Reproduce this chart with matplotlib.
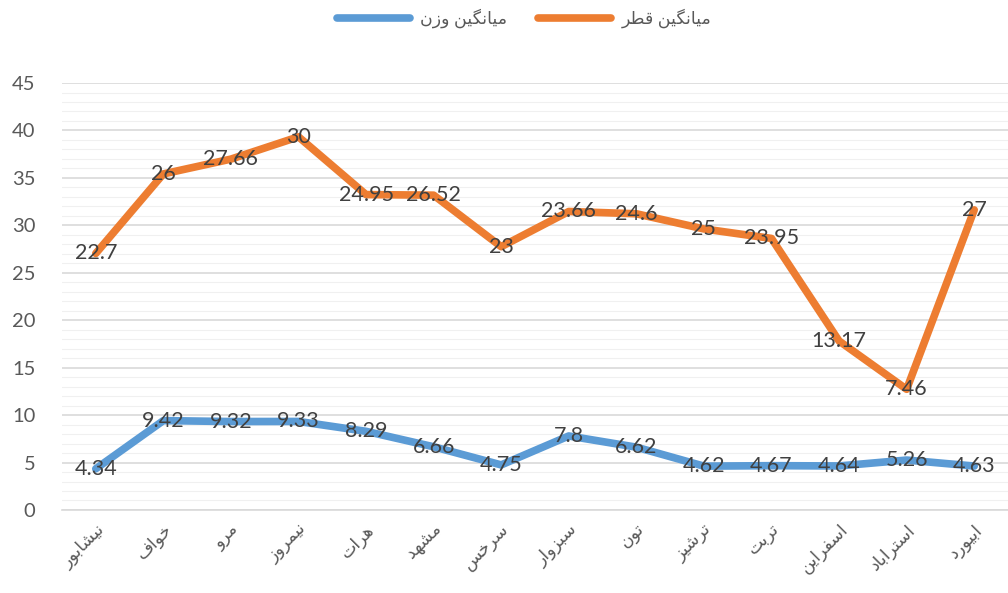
import numpy as np
import matplotlib.pyplot as plt
from matplotlib.ticker import MultipleLocator

# --- data ---
cities = ["نیشابور", "خواف", "مرو", "نیمروز", "هرات", "مشهد", "سرخس",
          "سبزوار", "تون", "ترشیز", "تربت", "اسفراین", "استراباد", "ابیورد"]
weight = [4.34, 9.42, 9.32, 9.33, 8.29, 6.66, 4.75, 7.8, 6.62, 4.62, 4.67, 4.64, 5.26, 4.63]
diameter = [22.7, 26, 27.66, 30, 24.95, 26.52, 23, 23.66, 24.6, 25, 23.95, 13.17, 7.46, 27]
name_weight = "میانگین وزن"
name_diameter = "میانگین قطر"
yticks = [0, 5, 10, 15, 20, 25, 30, 35, 40, 45]

# minimal arabic/persian shaping (matplotlib has no bidi support)
FORMS = {
    'ا': ('\uFE8D', '\uFE8E', None, None),
    'آ': ('\uFE81', '\uFE82', None, None),
    'ب': ('\uFE8F', '\uFE90', '\uFE91', '\uFE92'),
    'ت': ('\uFE95', '\uFE96', '\uFE97', '\uFE98'),
    'خ': ('\uFEA5', '\uFEA6', '\uFEA7', '\uFEA8'),
    'د': ('\uFEA9', '\uFEAA', None, None),
    'ر': ('\uFEAD', '\uFEAE', None, None),
    'ز': ('\uFEAF', '\uFEB0', None, None),
    'س': ('\uFEB1', '\uFEB2', '\uFEB3', '\uFEB4'),
    'ش': ('\uFEB5', '\uFEB6', '\uFEB7', '\uFEB8'),
    'ط': ('\uFEC1', '\uFEC2', '\uFEC3', '\uFEC4'),
    'ف': ('\uFED1', '\uFED2', '\uFED3', '\uFED4'),
    'ق': ('\uFED5', '\uFED6', '\uFED7', '\uFED8'),
    'م': ('\uFEE1', '\uFEE2', '\uFEE3', '\uFEE4'),
    'ن': ('\uFEE5', '\uFEE6', '\uFEE7', '\uFEE8'),
    'ه': ('\uFEE9', '\uFEEA', '\uFEEB', '\uFEEC'),
    'و': ('\uFEED', '\uFEEE', None, None),
    'ی': ('\uFBFC', '\uFBFD', '\uFBFE', '\uFBFF'),
    'گ': ('\uFB92', '\uFB93', '\uFB94', '\uFB95'),
}


def shape(s):
    out = []
    for i, c in enumerate(s):
        if c not in FORMS:
            out.append(c)
            continue
        prev = s[i - 1] if i > 0 else None
        nxt = s[i + 1] if i < len(s) - 1 else None
        jp = prev in FORMS and FORMS[prev][2] is not None
        jn = FORMS[c][2] is not None and nxt in FORMS
        iso, fin, ini, med = FORMS[c]
        if jp and jn:
            out.append(med)
        elif jp:
            out.append(fin)
        elif jn:
            out.append(ini)
        else:
            out.append(iso)
    return ''.join(out)[::-1]


plt.rcParams['font.family'] = ['Lato', 'DejaVu Sans']

x = np.arange(len(cities))
w = np.array(weight)
top = w + np.array(diameter)  # stacked line

fig = plt.figure(figsize=(10.08, 5.93), dpi=100)
ax = fig.add_axes([0.0615, 0.14, 0.9385, 0.72])

l1, = ax.plot(x, w, color='#5B9BD5', lw=5.5, solid_joinstyle='round', solid_capstyle='round',
              label=shape(name_weight), zorder=3)
l2, = ax.plot(x, top, color='#ED7D31', lw=5.5, solid_joinstyle='round', solid_capstyle='round',
              label=shape(name_diameter), zorder=3)

for xi, yi, v in zip(x, w, weight):
    ax.text(xi, yi, f"{v:g}", ha='center', va='center', fontsize=15.5, color='#404040', zorder=4)
for xi, yi, v in zip(x, top, diameter):
    ax.text(xi, yi, f"{v:g}", ha='center', va='center', fontsize=15.5, color='#404040', zorder=4)

ax.set_xlim(-0.5, len(cities) - 0.5)
ax.set_ylim(0, 45)
ax.set_yticks(yticks)
ax.yaxis.set_minor_locator(MultipleLocator(1))
ax.grid(axis='y', which='major', color='#D9D9D9', lw=1.2)
ax.grid(axis='y', which='minor', color='#F0F0F0', lw=0.8)
ax.set_axisbelow(True)
for sp in ['top', 'right', 'left']:
    ax.spines[sp].set_visible(False)
ax.spines['bottom'].set_color('#D9D9D9')
ax.spines['bottom'].set_linewidth(1.2)

ax.set_xticks(x)
ax.set_xticklabels([shape(c) for c in cities], rotation=45, ha='right',
                   rotation_mode='anchor', fontsize=12.5, color='#595959')
ax.tick_params(axis='x', length=0, pad=8)
ax.tick_params(axis='y', which='both', length=0, labelsize=14.5, labelcolor='#595959', pad=19)

leg = fig.legend(handles=[l1, l2], loc='upper center', bbox_to_anchor=(0.52, 1.012),
                 ncol=2, frameon=False, fontsize=12.5, handlelength=4.2, columnspacing=1.8,
                 handletextpad=0.6)
for t in leg.get_texts():
    t.set_color('#595959')

fig.savefig('out.png', dpi=100)
